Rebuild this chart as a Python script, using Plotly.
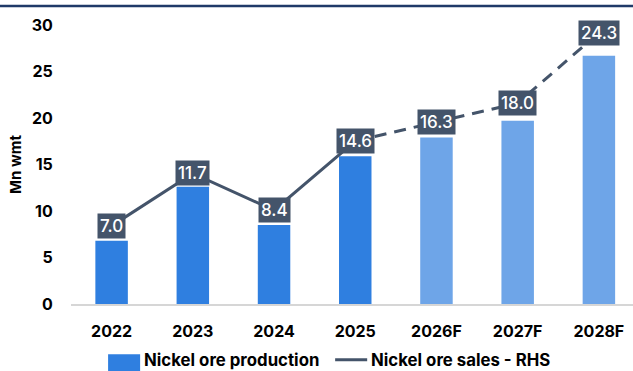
import plotly.graph_objects as go

# Chart data
years = ["2022", "2023", "2024", "2025", "2026F", "2027F", "2028F"]
production = [6.8, 12.6, 8.5, 15.9, 17.9, 19.7, 26.7]      # Mn wmt, left axis
sales = [7.0, 11.7, 8.4, 14.6, 16.3, 18.0, 24.3]           # Mn wmt, right axis (RHS)
forecast = [False, False, False, False, True, True, True]

ACTUAL_BLUE = "#2F7FE0"
FORECAST_BLUE = "#6EA5E8"
SLATE = "#44546A"
NAVY = "#1F3A68"
FONT = "Inter"

bar_colors = [FORECAST_BLUE if f else ACTUAL_BLUE for f in forecast]

fig = go.Figure()

fig.add_trace(go.Bar(
    x=years, y=production, marker=dict(color=bar_colors, line=dict(width=0)),
    name="Nickel ore production", showlegend=False,
))

# Sales line: solid through the last actual year, dashed over the forecasts
last_actual = max(i for i, f in enumerate(forecast) if not f)
fig.add_trace(go.Scatter(
    x=years[:last_actual + 1], y=sales[:last_actual + 1], yaxis="y2",
    mode="lines", line=dict(color=SLATE, width=3), showlegend=False,
))
fig.add_trace(go.Scatter(
    x=years[last_actual:], y=sales[last_actual:], yaxis="y2",
    mode="lines", line=dict(color=SLATE, width=3, dash="12px,8px"), showlegend=False,
))

# Value boxes on the sales line (category index keeps "2022" etc. from being read as numbers)
for i, v in enumerate(sales):
    fig.add_annotation(
        x=i, y=v, xref="x", yref="y2", text=f"{v:.1f}", showarrow=False,
        font=dict(family=FONT, size=17, color="white", weight=500),
        bgcolor=SLATE, borderpad=2, xanchor="center", yanchor="middle",
    )

# Top rule
fig.add_shape(type="line", xref="paper", yref="paper", x0=-0.2, x1=1.0,
              y0=1.068, y1=1.068, line=dict(color=NAVY, width=2.5))

# Legend drawn by hand along the bottom edge
LEG_Y = -0.2
LEG_FONT = dict(family=FONT, size=16.8, color="black", weight="bold")
fig.add_shape(type="rect", xref="paper", yref="paper", x0=0.066, x1=0.123,
              y0=LEG_Y + 0.02, y1=LEG_Y - 0.05, fillcolor=ACTUAL_BLUE, line=dict(width=0))
fig.add_annotation(xref="paper", yref="paper", x=0.127, y=LEG_Y, text="Nickel ore production",
                   showarrow=False, xanchor="left", yanchor="middle", font=LEG_FONT)
fig.add_shape(type="line", xref="paper", yref="paper", x0=0.47, x1=0.527,
              y0=LEG_Y, y1=LEG_Y, line=dict(color=SLATE, width=3))
fig.add_annotation(xref="paper", yref="paper", x=0.53, y=LEG_Y, text="Nickel ore sales - RHS",
                   showarrow=False, xanchor="left", yanchor="middle", font=LEG_FONT)

fig.update_layout(
    width=633, height=371,
    margin=dict(l=71, r=0, t=25, b=67),
    paper_bgcolor="white", plot_bgcolor="white",
    bargap=0.6, showlegend=False,
    font=dict(family=FONT, color="black"),
    xaxis=dict(
        type="category", range=[-0.5, 6.42], showgrid=False, showline=True,
        linecolor="#D6D6D6", linewidth=1.5, ticks="outside", ticklen=12,
        tickcolor="rgba(0,0,0,0)",
        tickfont=dict(family=FONT, size=16, color="black", weight="bold"),
    ),
    yaxis=dict(
        range=[0, 30], dtick=5, showgrid=False, zeroline=False, showline=False,
        ticks="outside", ticklen=14, tickcolor="rgba(0,0,0,0)",
        tickfont=dict(family=FONT, size=16, color="black", weight="bold"),
        title=dict(text="Mn wmt", standoff=6,
                   font=dict(family=FONT, size=15, color="black", weight="bold")),
    ),
    yaxis2=dict(range=[0, 25], overlaying="y", side="right", visible=False),
)

fig.write_html("out.html")
